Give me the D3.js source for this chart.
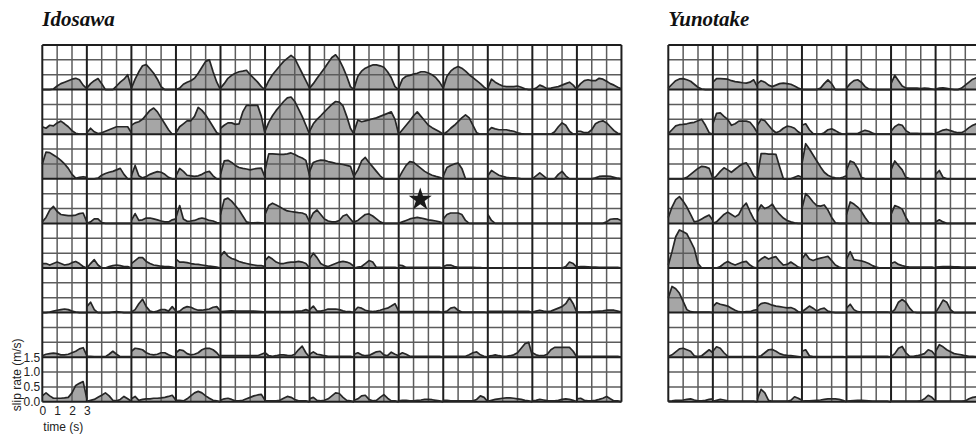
<!DOCTYPE html>
<html>
<head>
<meta charset="utf-8">
<script src="https://cdn.jsdelivr.net/npm/d3@7"></script>
<style>
  body { margin: 0; background: #fff; }
  #chart svg { display: block; background: #fff; }
</style>
</head>
<body>
<div id="chart"><svg width="976" height="435"></svg></div>
<script>
// sample times (s) of every slip-rate function
const timeSteps = [0, 0.25, 0.5, 0.75, 1, 1.25, 1.5, 1.75, 2, 2.25, 2.5, 2.75, 3];
const rateTicks = [0, 0.5, 1.0, 1.5];
const timeTicks = [0, 1, 2, 3];

// Idosawa: 8 rows x 13 subfaults, slip rate in m/s
const idosawaRow1 = [
  [0,0,0,0.02,0.12,0.2,0.25,0.3,0.35,0.38,0.33,0.15,0.03],
  [0.05,0.2,0.3,0.37,0.2,0,0,0,0.12,0.25,0.35,0.5,0.05],
  [0.05,0.35,0.6,0.8,0.84,0.7,0.55,0.35,0.1,0,0,0,0],
  [0,0.05,0.18,0.25,0.3,0.38,0.55,0.75,0.95,1.0,0.6,0.25,0],
  [0.05,0.2,0.38,0.48,0.55,0.6,0.62,0.65,0.5,0.38,0.25,0.1,0],
  [0.05,0.3,0.5,0.65,0.8,0.95,1.05,1.15,1.05,0.8,0.55,0.3,0.05],
  [0.05,0.2,0.38,0.55,0.72,0.9,1.08,1.17,1.0,0.75,0.45,0.1,0],
  [0.05,0.45,0.62,0.72,0.78,0.83,0.83,0.8,0.75,0.6,0.4,0.1,0],
  [0.05,0.35,0.45,0.48,0.52,0.55,0.6,0.6,0.56,0.5,0.4,0.25,0.05],
  [0.05,0.45,0.62,0.72,0.78,0.72,0.62,0.5,0.4,0.3,0.2,0.08,0],
  [0.05,0.35,0.25,0.18,0.12,0.1,0.1,0.1,0.12,0.08,0.03,0,0],
  [0,0.05,0.15,0.1,0.03,0.05,0.08,0.1,0.15,0.2,0.25,0.15,0],
  [0.05,0.2,0.3,0.33,0.3,0.3,0.38,0.35,0.28,0.2,0.15,0.08,0.03]
];
const idosawaRow2 = [
  [0.25,0.2,0.3,0.28,0.38,0.44,0.35,0.25,0.12,0.03,0,0,0],
  [0.05,0.2,0.08,0.02,0.05,0.1,0.15,0.2,0.25,0.25,0.25,0.25,0.05],
  [0.3,0.38,0.42,0.5,0.65,0.8,0.88,0.75,0.55,0.35,0.15,0,0],
  [0.05,0.25,0.35,0.45,0.45,0.6,0.9,0.8,0.65,0.45,0.25,0.05,0],
  [0.2,0.3,0.38,0.38,0.33,0.35,0.75,0.97,0.97,0.97,0.97,0.6,0],
  [0.1,0.4,0.62,0.8,0.95,1.1,1.22,1.25,1.1,0.85,0.6,0.3,0],
  [0.1,0.35,0.5,0.62,0.75,0.88,1.0,1.1,1.08,0.95,0.6,0.2,0],
  [0.1,0.48,0.42,0.45,0.48,0.52,0.55,0.6,0.65,0.7,0.75,0.5,0],
  [0,0.15,0.3,0.45,0.62,0.75,0.6,0.45,0.3,0.22,0.15,0.08,0],
  [0,0.08,0.2,0.3,0.42,0.55,0.65,0.55,0.3,0.05,0,0,0],
  [0.1,0.22,0.18,0.15,0.15,0.15,0.12,0.1,0.05,0.02,0,0,0],
  [0,0,0,0,0,0,0.08,0.25,0.38,0.3,0.1,0,0],
  [0.1,0.1,0.05,0.05,0.15,0.35,0.42,0.45,0.38,0.25,0.12,0.03,0]
];
const idosawaRow3 = [
  [0.5,0.9,0.88,0.8,0.72,0.62,0.5,0.35,0.15,0.02,0.05,0.07,0.05],
  [0,0,0,0.02,0.12,0.18,0.22,0.25,0.3,0.35,0.15,0,0],
  [0.1,0.45,0.1,0.03,0.08,0.15,0.2,0.24,0.22,0.15,0.05,0,0],
  [0.1,0.35,0.25,0.12,0.1,0.08,0.1,0.15,0.22,0.25,0.1,0,0],
  [0.15,0.6,0.62,0.55,0.45,0.38,0.35,0.33,0.3,0.33,0.35,0.36,0.05],
  [0.3,0.84,0.84,0.83,0.82,0.82,0.84,0.87,0.82,0.75,0.7,0.62,0.1],
  [0.25,0.55,0.6,0.63,0.62,0.58,0.55,0.52,0.5,0.48,0.45,0.42,0.05],
  [0.1,0.3,0.6,0.72,0.55,0.4,0.25,0.1,0,0,0,0,0],
  [0.02,0.25,0.45,0.58,0.55,0.45,0.35,0.25,0.18,0.12,0.08,0.05,0],
  [0.1,0.38,0.45,0.5,0.53,0.35,0,0,0,0,0,0,0],
  [0.1,0.28,0.2,0.12,0.08,0.05,0.03,0.03,0.02,0,0,0,0],
  [0,0.1,0.2,0.1,0,0,0,0.15,0.25,0.1,0,0,0],
  [0,0,0,0,0,0.03,0.08,0.09,0.09,0.08,0.05,0.02,0]
];
const idosawaRow4 = [
  [0.05,0.2,0.45,0.57,0.4,0.3,0.28,0.26,0.26,0.28,0.33,0.35,0.05],
  [0,0.05,0.15,0.15,0.03,0,0,0,0,0,0,0,0],
  [0.1,0.33,0.1,0.12,0.18,0.18,0.15,0.12,0.08,0.05,0.05,0.12,0.15],
  [0.2,0.6,0.15,0.07,0.08,0.1,0.15,0.18,0.15,0.1,0.08,0.03,0],
  [0.3,0.8,0.85,0.75,0.6,0.45,0.25,0.05,0.02,0.02,0.03,0.02,0],
  [0.3,0.6,0.68,0.62,0.55,0.48,0.42,0.4,0.38,0.36,0.35,0.3,0.05],
  [0.1,0.35,0.45,0.3,0.15,0.08,0.05,0.05,0.1,0.25,0.3,0.15,0],
  [0.05,0.1,0.2,0.3,0.32,0.25,0.15,0.05,0,0,0,0,0],
  [0,0.05,0.1,0.15,0.18,0.2,0.18,0.15,0.12,0.1,0.08,0.05,0],
  [0.15,0.3,0.35,0.35,0.35,0.3,0.1,0,0,0,0,0,0],
  [0.3,0.1,0,0,0,0,0,0,0,0,0,0,0],
  [0,0,0,0,0,0,0,0,0,0,0,0,0],
  [0,0,0,0,0,0,0,0,0.05,0.14,0.15,0.15,0.1]
];
const idosawaRow5 = [
  [0.15,0.15,0.1,0.15,0.2,0.15,0.1,0.12,0.18,0.22,0.15,0.05,0],
  [0,0.15,0.28,0.1,0,0,0.05,0.08,0.1,0.08,0.05,0.05,0],
  [0.15,0.25,0.35,0.35,0.22,0.15,0.1,0.08,0.06,0.05,0.05,0.03,0],
  [0.3,0.2,0.2,0.18,0.15,0.13,0.12,0.1,0.08,0.06,0.05,0.03,0],
  [0.4,0.55,0.4,0.32,0.28,0.22,0.18,0.15,0.12,0.1,0.08,0.08,0.05],
  [0.25,0.38,0.3,0.2,0.15,0.15,0.18,0.2,0.2,0.22,0.2,0.15,0],
  [0.3,0.5,0.35,0.15,0.08,0.05,0.1,0.15,0.2,0.22,0.2,0.15,0.05],
  [0,0.03,0.05,0.15,0.25,0.2,0.02,0.02,0.02,0.02,0.02,0.02,0],
  [0.1,0.08,0.02,0.02,0.02,0.02,0.02,0.02,0.02,0.02,0.02,0.02,0],
  [0.05,0.1,0.1,0.05,0.02,0.02,0.02,0.02,0.02,0.01,0.01,0,0],
  [0,0,0,0,0,0,0,0,0,0,0,0,0],
  [0,0,0,0,0,0,0,0,0,0.05,0.2,0.15,0.02],
  [0.03,0.05,0.05,0.04,0.03,0.03,0.02,0.02,0.02,0.02,0.02,0.02,0]
];
const idosawaRow6 = [
  [0,0,0.02,0.05,0.08,0.1,0.12,0.1,0.05,0.02,0,0,0],
  [0.2,0.35,0.1,0,0,0,0,0.02,0.03,0.02,0,0,0],
  [0.02,0.1,0.3,0.45,0.2,0.05,0.02,0.05,0.1,0.1,0.05,0.2,0.05],
  [0.02,0.05,0.15,0.2,0.18,0.12,0.08,0.08,0.1,0.12,0.18,0.2,0.05],
  [0.03,0.04,0.05,0.06,0.05,0.05,0.05,0.05,0.05,0.05,0.04,0.03,0.02],
  [0.03,0.03,0.03,0.03,0.03,0.03,0.03,0.03,0.04,0.05,0.06,0.1,0.05],
  [0.1,0.22,0.05,0.05,0.08,0.12,0.12,0.12,0.1,0.06,0.03,0.03,0],
  [0.05,0.18,0.15,0.08,0.05,0.03,0.05,0.08,0.12,0.15,0.22,0.3,0.05],
  [0.03,0.03,0.03,0.03,0.03,0.03,0.03,0.03,0.03,0.03,0.03,0.03,0],
  [0.02,0.05,0.15,0.18,0.08,0.02,0.02,0.02,0.02,0.02,0.02,0.02,0],
  [0.04,0.04,0.04,0.04,0.04,0.04,0.04,0.04,0.04,0.04,0.04,0.04,0],
  [0.02,0.05,0.08,0.05,0.03,0.05,0.1,0.15,0.2,0.3,0.5,0.3,0],
  [0.02,0.02,0.02,0.02,0.03,0.04,0.05,0.06,0.08,0.08,0.08,0.05,0.02]
];
const idosawaRow7 = [
  [0.05,0.1,0.12,0.14,0.12,0.08,0.08,0.1,0.15,0.2,0.28,0.32,0.05],
  [0.03,0.03,0.02,0.02,0.02,0.02,0.1,0.2,0.1,0.02,0.02,0.02,0.02],
  [0.2,0.3,0.28,0.25,0.15,0.1,0.08,0.1,0.15,0.15,0.08,0.03,0],
  [0.15,0.25,0.22,0.12,0.08,0.1,0.15,0.25,0.3,0.3,0.25,0.15,0],
  [0.05,0.05,0.05,0.05,0.05,0.05,0.05,0.05,0.05,0.05,0.05,0.1,0.15],
  [0.15,0.05,0.03,0.05,0.08,0.08,0.06,0.05,0.1,0.25,0.37,0.15,0],
  [0.1,0.18,0.1,0.08,0.05,0.03,0.03,0.03,0.03,0.03,0.03,0.03,0],
  [0.1,0.15,0.08,0.05,0.06,0.12,0.18,0.2,0.08,0.05,0.17,0.1,0.05],
  [0.08,0.15,0.1,0.03,0.03,0.03,0.03,0.03,0.03,0.03,0.03,0.03,0],
  [0.03,0.03,0.03,0.03,0.03,0.03,0.03,0.08,0.15,0.18,0.08,0.03,0],
  [0.03,0.05,0.08,0.05,0.03,0.03,0.05,0.08,0.15,0.3,0.45,0.5,0.05],
  [0.15,0.08,0.05,0.05,0.1,0.25,0.33,0.33,0.33,0.33,0.33,0.2,0],
  [0.03,0.03,0.03,0.03,0.03,0.03,0.03,0.03,0.03,0.03,0.03,0.03,0]
];
const idosawaRow8 = [
  [0.2,0.3,0.2,0.12,0.12,0.12,0.13,0.15,0.3,0.55,0.62,0.68,0.1],
  [0.02,0.05,0.08,0.15,0.22,0.3,0.2,0.05,0.03,0.08,0.18,0.1,0.02],
  [0.1,0.18,0.05,0.08,0.1,0.1,0.12,0.12,0.13,0.15,0.18,0.22,0.05],
  [0.05,0.05,0.03,0.1,0.2,0.3,0.35,0.3,0.2,0.12,0.05,0.03,0],
  [0.05,0.1,0.12,0.08,0.03,0.03,0.05,0.1,0.15,0.2,0.23,0.25,0.05],
  [0.03,0.03,0.03,0.03,0.05,0.12,0.18,0.15,0.08,0.03,0.03,0.03,0],
  [0.1,0.15,0.05,0.03,0.05,0.1,0.2,0.3,0.28,0.15,0.05,0.03,0],
  [0.05,0.1,0.2,0.22,0.08,0.03,0.05,0.15,0.24,0.12,0.03,0.03,0],
  [0.03,0.05,0.05,0.03,0.03,0.05,0.06,0.08,0.08,0.07,0.05,0.03,0],
  [0.05,0.05,0.03,0.03,0.03,0.03,0.03,0.03,0.03,0.08,0.2,0.15,0],
  [0.02,0.05,0.08,0.1,0.12,0.13,0.13,0.12,0.1,0.08,0.05,0.03,0],
  [0.03,0.05,0.08,0.06,0.04,0.03,0.03,0.05,0.08,0.1,0.08,0.05,0],
  [0.1,0.12,0.05,0.03,0.03,0.05,0.08,0.12,0.18,0.1,0.03,0.03,0]
];

// Yunotake: 8 rows x 7 visible subfaults
const yunotakeRow1 = [
  [0.05,0.18,0.3,0.36,0.37,0.33,0.28,0.18,0.08,0.02,0,0,0],
  [0.25,0.37,0.37,0.36,0.35,0.3,0.27,0.25,0.23,0.22,0.25,0.33,0.1],
  [0.2,0.3,0.25,0.15,0.1,0.15,0.2,0.22,0.2,0.18,0.12,0.05,0],
  [0,0,0,0,0,0.05,0.2,0.33,0.2,0,0,0,0],
  [0.05,0.2,0.3,0.33,0.25,0.1,0.02,0,0,0,0,0,0],
  [0.2,0.48,0.3,0.12,0.05,0.05,0.05,0.05,0.03,0.05,0.04,0.02,0],
  [0.02,0.05,0.06,0.04,0.02,0,0,0.05,0.15,0.25,0.35,0.4,0.3]
];
const yunotakeRow2 = [
  [0.02,0.15,0.28,0.32,0.33,0.35,0.38,0.4,0.45,0.5,0.3,0.05,0],
  [0.35,0.7,0.72,0.6,0.5,0.3,0.35,0.44,0.44,0.44,0.4,0.25,0.05],
  [0.3,0.5,0.45,0.3,0.15,0.05,0.1,0.2,0.27,0.25,0.2,0.08,0],
  [0.3,0.35,0.15,0.02,0,0,0.05,0.15,0.18,0.12,0.05,0,0],
  [0.02,0.02,0.02,0.02,0.08,0.13,0.1,0.04,0,0,0,0,0],
  [0.1,0.25,0.33,0.3,0.12,0.04,0.03,0.03,0.02,0.02,0.02,0.02,0],
  [0.03,0.08,0.14,0.16,0.12,0.08,0.05,0.05,0.12,0.22,0.3,0.35,0.3]
];
const yunotakeRow3 = [
  [0,0,0,0,0,0.05,0.15,0.25,0.35,0.42,0.4,0.35,0.02],
  [0,0.1,0.25,0.37,0.3,0.22,0.32,0.42,0.5,0.54,0.35,0.1,0],
  [0.1,0.85,0.85,0.83,0.83,0.82,0.4,0,0,0,0.05,0.1,0.05],
  [0.5,1.18,1.0,0.8,0.6,0.4,0.22,0.12,0.06,0.03,0.02,0.05,0.1],
  [0.3,0.6,0.55,0.35,0.05,0,0,0,0,0,0,0,0],
  [0.3,0.6,0.45,0.3,0.05,0,0,0,0,0,0,0,0],
  [0.15,0.28,0.05,0,0,0,0,0,0,0,0,0,0]
];
const yunotakeRow4 = [
  [0.2,0.55,0.8,0.9,0.75,0.55,0.3,0.05,0.08,0.15,0.22,0.28,0.1],
  [0,0.05,0.18,0.3,0.38,0.3,0.22,0.3,0.55,0.68,0.4,0.15,0],
  [0.4,0.62,0.5,0.55,0.65,0.45,0.3,0.18,0.1,0.05,0.02,0,0],
  [0.5,1.0,0.88,0.72,0.6,0.58,0.62,0.45,0.2,0.02,0,0,0],
  [0.3,0.72,0.65,0.55,0.4,0.2,0.03,0,0,0,0,0,0],
  [0.3,0.6,0.55,0.48,0.2,0,0,0,0,0,0,0,0],
  [0.05,0.12,0.05,0,0,0,0,0,0,0,0,0,0]
];
const yunotakeRow5 = [
  [0.1,0.55,1.05,1.28,1.22,1.15,0.9,0.65,0.15,0,0,0,0],
  [0,0,0.05,0.15,0.22,0.15,0.1,0.15,0.2,0.22,0.1,0.02,0],
  [0.2,0.3,0.38,0.3,0.35,0.38,0.22,0.1,0.12,0.2,0.12,0.03,0],
  [0.3,0.48,0.3,0.25,0.3,0.33,0.36,0.39,0.25,0.1,0.03,0,0],
  [0.3,0.55,0.28,0.26,0.24,0.2,0.15,0.08,0.03,0,0,0,0],
  [0.15,0.2,0.12,0.08,0.05,0.03,0.03,0.03,0.03,0.03,0.03,0.03,0],
  [0.03,0.04,0.05,0.05,0.05,0.04,0.04,0.03,0.03,0.03,0.03,0.03,0]
];
const yunotakeRow6 = [
  [0.5,0.88,0.8,0.65,0.38,0.1,0.03,0.02,0.02,0.02,0.02,0.02,0],
  [0.2,0.33,0.28,0.25,0.22,0.15,0.08,0.03,0.02,0.03,0.03,0.08,0.1],
  [0.2,0.3,0.33,0.3,0.25,0.22,0.2,0.18,0.16,0.17,0.12,0.03,0],
  [0.03,0.12,0.22,0.15,0.05,0.12,0.15,0.05,0.02,0,0,0,0],
  [0.15,0.28,0.1,0.03,0.02,0.02,0.02,0.02,0.02,0.02,0.02,0.02,0],
  [0,0.1,0.35,0.44,0.35,0.15,0.02,0,0,0,0,0,0],
  [0,0.2,0.42,0.35,0.1,0,0,0,0,0,0,0,0]
];
const yunotakeRow7 = [
  [0.02,0.08,0.18,0.28,0.3,0.25,0.2,0.05,0.02,0.05,0.15,0.25,0.15],
  [0.2,0.35,0.3,0.15,0.03,0.02,0.02,0.02,0.02,0.02,0.02,0.02,0],
  [0.02,0.05,0.15,0.25,0.26,0.2,0.12,0.08,0.06,0.05,0.04,0.02,0],
  [0.2,0.25,0.05,0.02,0.02,0.02,0.02,0.02,0.02,0.02,0.02,0.02,0],
  [0.03,0.03,0.03,0.03,0.03,0.03,0.03,0.03,0.03,0.03,0.03,0.03,0],
  [0.02,0.12,0.3,0.36,0.15,0.03,0.03,0.05,0.08,0.12,0.25,0.2,0.05],
  [0.2,0.42,0.35,0.25,0.18,0.12,0.1,0.08,0.05,0.03,0.03,0.02,0]
];
const yunotakeRow8 = [
  [0.02,0.03,0.05,0.05,0.06,0.08,0.1,0.06,0.03,0.03,0.05,0.08,0.1],
  [0.02,0.05,0.08,0.06,0.03,0.02,0.02,0.02,0.02,0.02,0.02,0.02,0],
  [0.1,0.42,0.3,0.05,0.02,0.02,0.02,0.02,0.02,0.05,0.17,0.12,0.05],
  [0.02,0.03,0.03,0.04,0.05,0.06,0.08,0.1,0.1,0.1,0.08,0.05,0],
  [0.02,0.03,0.04,0.05,0.05,0.04,0.03,0.02,0.02,0.02,0.02,0.02,0],
  [0.02,0.02,0.02,0.02,0.02,0.02,0.02,0.02,0.03,0.1,0.22,0.15,0.02],
  [0.02,0.02,0.02,0.02,0.02,0.02,0.02,0.02,0.03,0.1,0.15,0.17,0.15]
];

const panelNames = ['Idosawa', 'Yunotake'];
const panelRows = [
  [idosawaRow1, idosawaRow2, idosawaRow3, idosawaRow4, idosawaRow5, idosawaRow6, idosawaRow7, idosawaRow8],
  [yunotakeRow1, yunotakeRow2, yunotakeRow3, yunotakeRow4, yunotakeRow5, yunotakeRow6, yunotakeRow7, yunotakeRow8]
];
// hypocenter (star): panel index, row, column, time (s), rate (m/s)
const hypocenter = [0, 3, 8, 1.45, 0.8];

// layout
const CELL_W = 44.55;
const CELL_H = 44.6;
const GRID_TOP = 45;
const PANEL_LEFT = [42.3, 668.3];
const N_ROWS = 8;

const svg = d3.select('#chart svg');

const TIME_SCALE = d3.scaleLinear().domain([0, 3]).range([0, CELL_W]);
const RATE_SCALE = d3.scaleLinear().domain([0, 1.5]).range([CELL_H, 0]);
const ROW_SCALE = d3.scaleLinear().domain([0, N_ROWS]).range([GRID_TOP, GRID_TOP + N_ROWS * CELL_H]);

const area = d3.area()
  .x((d, i) => TIME_SCALE(timeSteps[i]))
  .y0(RATE_SCALE(0))
  .y1(d => RATE_SCALE(d));

const line = d3.line()
  .x((d, i) => TIME_SCALE(timeSteps[i]))
  .y(d => RATE_SCALE(d));

panelNames.forEach((name, p) => {
  const rows = panelRows[p];
  const nCols = rows[0].length;
  const COL_SCALE = d3.scaleLinear().domain([0, nCols]).range([PANEL_LEFT[p], PANEL_LEFT[p] + nCols * CELL_W]);

  const g = svg.append('g');

  // title
  g.append('text')
    .text(name)
    .attr('x', COL_SCALE(0))
    .attr('y', 26)
    .style('font-family', '"Liberation Serif", "Times New Roman", serif')
    .style('font-weight', 'bold')
    .style('font-style', 'italic')
    .style('font-size', '21px')
    .attr('fill', '#111');

  // slip-rate functions
  const cells = [];
  rows.forEach((row, r) => row.forEach((vals, c) => cells.push({ r, c, vals })));

  g.selectAll('path.fill')
    .data(cells)
    .join('path')
    .attr('class', 'fill')
    .attr('transform', d => `translate(${COL_SCALE(d.c)},${ROW_SCALE(d.r)})`)
    .attr('d', d => area(d.vals))
    .attr('fill', '#a6a6a6');

  // minor grid (1 s, 0.5 m/s)
  const minorX = [];
  d3.range(nCols).forEach(c => timeTicks.slice(1, 3).forEach(t => minorX.push(COL_SCALE(c) + TIME_SCALE(t))));
  const minorY = [];
  d3.range(N_ROWS).forEach(r => rateTicks.slice(1, 3).forEach(v => minorY.push(ROW_SCALE(r) + RATE_SCALE(v))));

  g.selectAll('line.minor-x')
    .data(minorX)
    .join('line')
    .attr('x1', d => d).attr('x2', d => d)
    .attr('y1', ROW_SCALE(0)).attr('y2', ROW_SCALE(N_ROWS))
    .attr('stroke', '#5c5c5c').attr('stroke-width', 1.5);

  g.selectAll('line.minor-y')
    .data(minorY)
    .join('line')
    .attr('x1', COL_SCALE(0)).attr('x2', COL_SCALE(nCols))
    .attr('y1', d => d).attr('y2', d => d)
    .attr('stroke', '#5c5c5c').attr('stroke-width', 1.5);

  // cell borders
  g.selectAll('line.major-x')
    .data(d3.range(nCols + 1))
    .join('line')
    .attr('x1', d => COL_SCALE(d)).attr('x2', d => COL_SCALE(d))
    .attr('y1', ROW_SCALE(0)).attr('y2', ROW_SCALE(N_ROWS))
    .attr('stroke', '#1e1e1e').attr('stroke-width', 2);

  g.selectAll('line.major-y')
    .data(d3.range(N_ROWS + 1))
    .join('line')
    .attr('x1', COL_SCALE(0)).attr('x2', COL_SCALE(nCols))
    .attr('y1', d => ROW_SCALE(d)).attr('y2', d => ROW_SCALE(d))
    .attr('stroke', '#1e1e1e').attr('stroke-width', 2);

  // outlines on top of the grid
  g.selectAll('path.outline')
    .data(cells)
    .join('path')
    .attr('class', 'outline')
    .attr('transform', d => `translate(${COL_SCALE(d.c)},${ROW_SCALE(d.r)})`)
    .attr('d', d => line(d.vals))
    .attr('fill', 'none')
    .attr('stroke', '#262626')
    .attr('stroke-width', 1.7)
    .attr('stroke-linejoin', 'round');

  if (hypocenter[0] === p) {
    g.append('path')
      .attr('d', d3.symbol(d3.symbolStar).size(165)())
      .attr('transform', `translate(${COL_SCALE(hypocenter[2]) + TIME_SCALE(hypocenter[3])},${ROW_SCALE(hypocenter[1]) + RATE_SCALE(hypocenter[4])})`)
      .attr('fill', '#1a1a1a');
  }
});

// scale key on the bottom-left subfault
const LABEL_FONT = '"Liberation Sans", Arial, sans-serif';
const keyX = PANEL_LEFT[0];

const yAxis = svg.append('g')
  .attr('transform', `translate(${keyX},${ROW_SCALE(N_ROWS - 1)})`)
  .call(d3.axisLeft(RATE_SCALE).tickValues(rateTicks).tickFormat(d3.format('.1f')).tickSize(0).tickPadding(2));
yAxis.select('.domain').remove();
yAxis.selectAll('text').style('font-family', LABEL_FONT).style('font-size', '12px').attr('fill', '#222');

const xAxis = svg.append('g')
  .attr('transform', `translate(${keyX},${ROW_SCALE(N_ROWS)})`)
  .call(d3.axisBottom(TIME_SCALE).tickValues(timeTicks).tickFormat(d3.format('d')).tickSize(0).tickPadding(5));
xAxis.select('.domain').remove();
xAxis.selectAll('text').style('font-family', LABEL_FONT).style('font-size', '12px').attr('fill', '#222');

svg.append('text')
  .text('time (s)')
  .attr('x', keyX + 1)
  .attr('y', 431)
  .style('font-family', LABEL_FONT)
  .style('font-size', '12px')
  .attr('fill', '#222');

svg.append('text')
  .text('slip rate (m/s)')
  .attr('transform', `translate(21,${ROW_SCALE(N_ROWS) - 27}) rotate(-90)`)
  .style('text-anchor', 'middle')
  .style('font-family', LABEL_FONT)
  .style('font-size', '12px')
  .attr('fill', '#222');
</script>
</body>
</html>
